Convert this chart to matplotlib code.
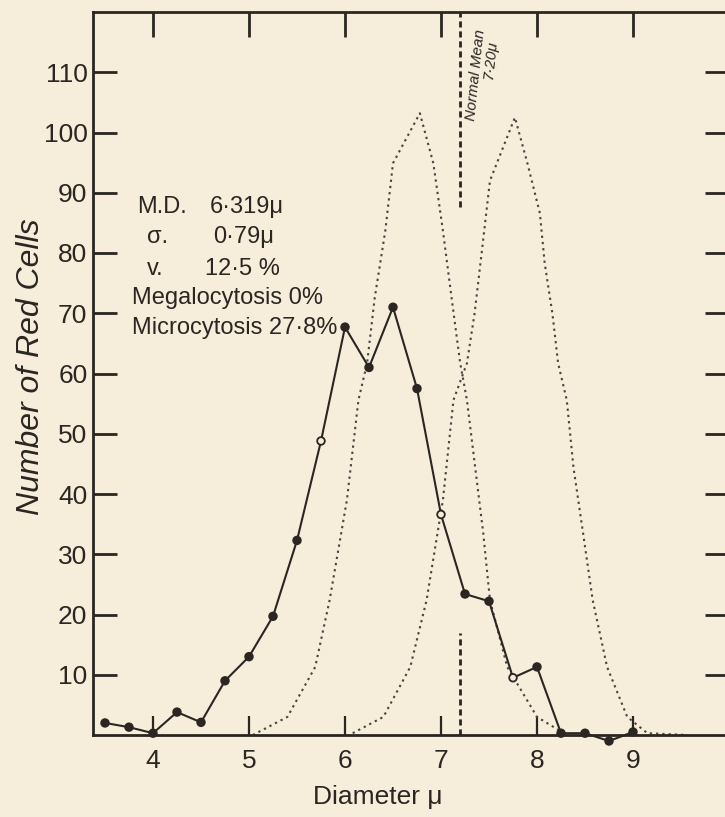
import numpy as np
import matplotlib
matplotlib.use("Agg")
import matplotlib.pyplot as plt

plt.rcParams['font.family'] = ['Liberation Sans', 'DejaVu Sans']

# observed red cell diameters (0.25 micron classes)
diam = [3.5, 3.75, 4.0, 4.25, 4.5, 4.75, 5.0, 5.25, 5.5, 5.75, 6.0, 6.25, 6.5,
        6.75, 7.0, 7.25, 7.5, 7.75, 8.0, 8.25, 8.5, 8.75, 9.0]
cells = [2.0, 1.3, 0.3, 3.8, 2.1, 9.0, 13.0, 19.7, 32.3, 48.8, 67.7, 61.0, 71.0,
         57.5, 36.6, 23.4, 22.2, 9.5, 11.3, 0.3, 0.3, -1.0, 0.5]
hollow = [5.75, 7.0, 7.75]

# dotted normal curves
left_x = [5.04, 5.40, 5.69, 5.84, 6.02, 6.14, 6.23, 6.31, 6.42, 6.50, 6.78,
          6.92, 7.02, 7.11, 7.20, 7.27, 7.44, 7.51, 7.69, 8.0, 8.31]
left_y = [0, 3.0, 11.3, 22.4, 39.0, 55.6, 61.7, 72.6, 83.7, 94.9, 103.2,
          94.9, 83.7, 72.6, 61.7, 55.6, 33.5, 22.4, 11.3, 3.0, 0]
right_x = [6.08, 6.40, 6.68, 6.85, 7.02, 7.13, 7.27, 7.35, 7.43, 7.51, 7.77,
           7.90, 8.03, 8.08, 8.16, 8.22, 8.31, 8.38, 8.48, 8.58, 8.73, 8.94,
           9.15, 9.56]
right_y = [0.3, 3.0, 11.3, 22.4, 39.0, 55.6, 61.7, 70.0, 80.9, 92.0, 102.5,
           94.9, 86.6, 78.3, 70.0, 61.7, 55.6, 44.4, 33.5, 22.4, 11.3, 3.0,
           0.3, 0]

normal_mean = 7.2
yticks = [10, 20, 30, 40, 50, 60, 70, 80, 90, 100, 110]
xticks = [4, 5, 6, 7, 8, 9]

bg = '#f6eddb'
ink = '#2b2622'

fig = plt.figure(figsize=(7.25, 8.17), dpi=100, facecolor=bg)
ax = fig.add_axes([93/725, 82/817, 636/725, 723/817], facecolor=bg)

ax.plot(left_x, left_y, color='#4a4540', lw=1.5, ls=(0, (1.1, 1.9)))
ax.plot(right_x, right_y, color='#4a4540', lw=1.5, ls=(0, (1.1, 1.9)))

ax.plot([normal_mean, normal_mean], [87.6, 120], color=ink, lw=2, ls=(0, (2.2, 1.4)))
ax.plot([normal_mean, normal_mean], [0, 16.9], color=ink, lw=2, ls=(0, (2.2, 1.4)))

ax.plot(diam, cells, color=ink, lw=1.5, zorder=3, clip_on=False)
fill = [bg if d in hollow else ink for d in diam]
ax.scatter(diam, cells, s=30, c=fill, edgecolors=ink, linewidths=1.3,
           zorder=4, clip_on=False)

ax.set_xlim(3.375, 10.0)
ax.set_ylim(0, 120)

for s in ['left', 'top', 'bottom']:
    ax.spines[s].set_linewidth(2)
    ax.spines[s].set_color(ink)
ax.spines['right'].set_visible(False)

ax.set_yticks(yticks)
ax.set_yticklabels([str(t) for t in yticks], fontsize=19)
ax.set_xticks(xticks)
ax.set_xticklabels([str(t) for t in xticks], fontsize=19)
ax.tick_params(axis='y', direction='in', length=17, width=2,
               color=ink, labelcolor=ink, pad=4, left=True, right=True)
ax.tick_params(axis='x', direction='in', length=14, width=1.6, color=ink,
               labelcolor=ink, pad=10, top=False)

# top ticks are longer than the bottom ones
sec = ax.secondary_xaxis('top')
sec.set_xticks(xticks)
sec.set_xticklabels([])
sec.tick_params(direction='in', length=18, width=2, color=ink)
sec.spines['top'].set_visible(False)

ax.text(-0.098, 0.51, 'Number of Red Cells', transform=ax.transAxes,
        rotation=90, ha='center', va='center', fontsize=23, style='italic',
        color=ink)
fig.text(378/725, 1 - 797/817, 'Diameter μ', ha='center', va='center',
         fontsize=19, color=ink)

ts = 17
ax.text(3.833, 87.6, 'M.D.', fontsize=ts, va='center', color=ink)
ax.text(4.594, 87.6, '6·319μ', fontsize=ts, va='center', color=ink)
ax.text(3.94, 82.6, 'σ.', fontsize=ts, va='center', color=ink)
ax.text(4.625, 82.6, '0·79μ', fontsize=ts, va='center', color=ink)
ax.text(3.94, 77.4, 'v.', fontsize=ts, va='center', color=ink)
ax.text(4.54, 77.4, '12·5 %', fontsize=ts, va='center', color=ink)
ax.text(3.78, 72.5, 'Megalocytosis 0%', fontsize=ts, va='center', color=ink)
ax.text(3.78, 67.5, 'Microcytosis 27·8%', fontsize=ts, va='center', color=ink)

ax.text(7.36, 109.5, 'Normal Mean', rotation=84, fontsize=11, style='italic',
        ha='center', va='center', color=ink)
ax.text(7.52, 112.0, '7·20μ', rotation=84, fontsize=11, style='italic',
        ha='center', va='center', color=ink)

fig.savefig('out.png', dpi=100, facecolor=bg)
